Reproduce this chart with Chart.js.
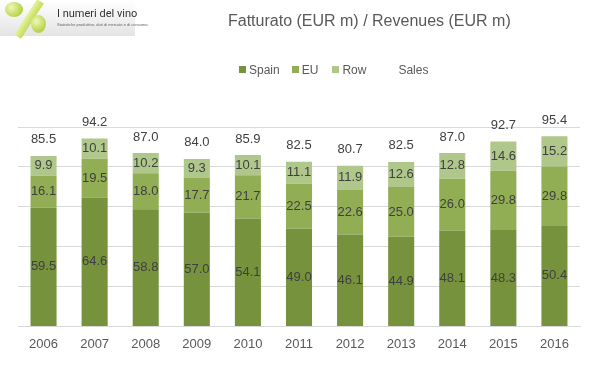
<!DOCTYPE html>
<html><head><meta charset="utf-8">
<script src="https://cdn.jsdelivr.net/npm/chart.js@4.4.1/dist/chart.umd.min.js"></script>
<style>
html,body{margin:0;padding:0;background:#fff;}
#wrap{position:relative;width:599px;height:378px;overflow:hidden;font-family:"Liberation Sans",Arial,sans-serif;}
#c{position:absolute;left:0;top:0;}
#logo{position:absolute;left:0;top:0;width:135px;height:36px;background:linear-gradient(#ffffff,#e4e4e4);}
.grape{position:absolute;border-radius:50%;background:radial-gradient(circle at 35% 35%,#eef7b8,#b7d34a 70%,#9cba35);}
#bar{position:absolute;left:25px;top:-2px;width:8px;height:42px;background:linear-gradient(90deg,#e6f2a0,#c2dc5a);transform:rotate(33deg);}
#ltitle{position:absolute;left:57px;top:7px;font-size:11px;color:#333;white-space:nowrap;font-family:Roboto,"Liberation Sans",sans-serif;}
#lsub{position:absolute;left:57px;top:22px;font-size:4px;color:#666;white-space:nowrap;}
#title{position:absolute;left:228px;top:12px;font-size:16px;color:#595959;white-space:nowrap;}
#legend{position:absolute;left:239px;top:62px;font-size:12px;color:#595959;white-space:nowrap;}
#legend span{display:inline-block;vertical-align:middle;}
.box{width:7px;height:7px;margin-right:3px;}
</style></head>
<body>
<div id="wrap">
<canvas id="c" width="599" height="378"></canvas>
<div id="logo">
  <div class="grape" style="left:5px;top:2px;width:18px;height:15px;"></div>
  <div id="bar"></div>
  <div class="grape" style="left:31px;top:15px;width:15px;height:18px;"></div>
  <div id="ltitle">I numeri del vino</div>
  <div id="lsub">Statistiche produttive, dati di mercato e di consumo.</div>
</div>
<div id="title">Fatturato (EUR m) / Revenues (EUR m)</div>
<div id="legend"></div>
</div>
<script>
const categories = ["2006","2007","2008","2009","2010","2011","2012","2013","2014","2015","2016"];
const spain = [59.5,64.6,58.8,57.0,54.1,49.0,46.1,44.9,48.1,48.3,50.4];
const eu = [16.1,19.5,18.0,17.7,21.7,22.5,22.6,25.0,26.0,29.8,29.8];
const row = [9.9,10.1,10.2,9.3,10.1,11.1,11.9,12.6,12.8,14.6,15.2];
const sales = [85.5,94.2,87.0,84.0,85.9,82.5,80.7,82.5,87.0,92.7,95.4];
const seriesNames = ["Spain","EU","Row","Sales"];
const colors = ["#76923C","#92AE55","#AFC78A"];

// legend (HTML)
const lg = document.getElementById('legend');
const gaps = [12,14,22];
seriesNames.forEach((n,i)=>{
  const b = document.createElement('span');
  b.className='box';
  b.style.background = i<3 ? colors[i] : 'transparent';
  lg.appendChild(b);
  const t = document.createElement('span');
  t.textContent = n;
  t.style.marginRight = (i<3?gaps[i]:0)+'px';
  lg.appendChild(t);
});

const labelPlugin = {
  id:'labels',
  afterDatasetsDraw(chart){
    const ctx = chart.ctx;
    ctx.save();
    ctx.font = '13px "Liberation Sans", Arial, sans-serif';
    ctx.fillStyle = '#404040';
    ctx.textAlign = 'center';
    ctx.textBaseline = 'middle';
    chart.data.datasets.forEach((ds,di)=>{
      const meta = chart.getDatasetMeta(di);
      meta.data.forEach((el,i)=>{
        const v = ds.data[i];
        const txt = v.toFixed(1);
        if (ds.type === 'line') {
          ctx.fillText(txt, el.x, el.y - 16);
        } else {
          ctx.fillText(txt, el.x, (el.y + el.base)/2);
        }
      });
    });
    ctx.restore();
  }
};

new Chart(document.getElementById('c'), {
  data:{
    labels: categories,
    datasets:[
      {type:'bar',label:'Spain',data:spain,backgroundColor:colors[0],stack:'s',barPercentage:0.51,categoryPercentage:1},
      {type:'bar',label:'EU',data:eu,backgroundColor:colors[1],stack:'s',barPercentage:0.51,categoryPercentage:1},
      {type:'bar',label:'Row',data:row,backgroundColor:colors[2],stack:'s',barPercentage:0.51,categoryPercentage:1},
      {type:'line',label:'Sales',data:sales,showLine:false,pointRadius:0,pointHoverRadius:0,borderColor:'transparent',backgroundColor:'transparent'}
    ]
  },
  options:{
    responsive:false,
    animation:false,
    events:[],
    layout:{padding:{left:18,right:19,top:127,bottom:16}},
    plugins:{legend:{display:false},title:{display:false},tooltip:{enabled:false}},
    scales:{
      x:{stacked:true,grid:{display:false,drawTicks:false},border:{display:true,color:'#d9d9d9'},
         ticks:{color:'#595959',font:{size:13,family:'"Liberation Sans", Arial, sans-serif'},padding:10}},
      y:{stacked:true,min:0,max:100,ticks:{display:false,stepSize:20},
         grid:{color:'#d9d9d9',drawTicks:false},border:{display:false}}
    }
  },
  plugins:[labelPlugin]
});
</script>
</body></html>
